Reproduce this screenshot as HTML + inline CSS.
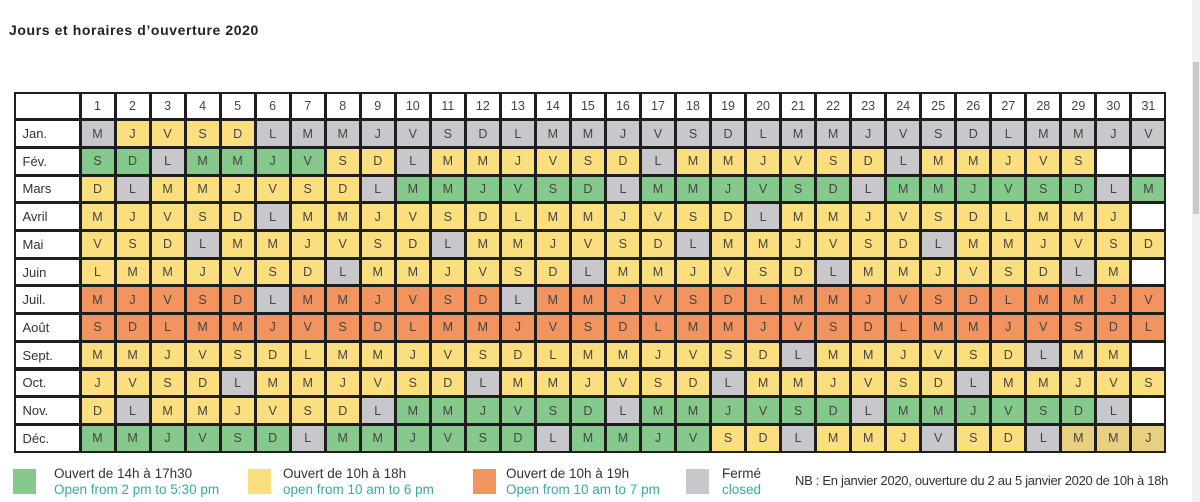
<!DOCTYPE html>
<html><head><meta charset="utf-8">
<style>
body{margin:0;width:1200px;height:502px;background:#fff;position:relative;overflow:hidden;font-family:"Liberation Sans",sans-serif;}
.t{position:absolute;left:9px;top:22px;font-family:"Liberation Sans",sans-serif;font-weight:bold;font-size:14px;letter-spacing:0.6px;color:#222;}
#tb{position:absolute;left:14px;top:92px;width:1152px;height:361px;background:#1e1e1e;}
.c{position:absolute;display:flex;align-items:center;justify-content:center;font-size:12.5px;color:#444;}
.l{justify-content:flex-start;padding-left:7px;box-sizing:border-box;font-size:13px;color:#333;}
.sq{position:absolute;width:23px;height:25px;top:469px;}
.lt{position:absolute;top:466px;font-size:13.5px;line-height:16px;color:#333;}
.lt span{color:#3aa8a8;}
</style></head><body>
<div class="t">Jours et horaires d’ouverture 2020</div>
<div id="tb"></div>
<div style="position:absolute;left:1192px;top:0;width:8px;height:502px;background:#f0f0f0"></div>
<div style="position:absolute;left:1193px;top:62px;width:6px;height:152px;background:#c8c8c8"></div>
<div class="sq" style="left:13px;background:#86c98c"></div>
<div class="lt" style="left:54px">Ouvert de 14h à 17h30<br><span>Open from 2 pm to 5:30 pm</span></div>
<div class="sq" style="left:248px;background:#fbdf7e"></div>
<div class="lt" style="left:283px">Ouvert de 10h à 18h<br><span>open from 10 am to 6 pm</span></div>
<div class="sq" style="left:473px;background:#f29460"></div>
<div class="lt" style="left:506px">Ouvert de 10h à 19h<br><span>Open from 10 am to 7 pm</span></div>
<div class="sq" style="left:686px;background:#c8c8cc"></div>
<div class="lt" style="left:722px">Fermé<br><span>closed</span></div>
<div class="lt" style="left:795px;top:473px;font-size:13px;letter-spacing:-0.3px">NB : En janvier 2020, ouverture du 2 au 5 janvier 2020 de 10h à 18h</div>
<script>
var C={G:'#86c98c',Y:'#fbdf7e',O:'#f29460',X:'#c8c8cc',W:'#ffffff',D:'#e9d080'};
function ex(s){var o='';s.split(',').forEach(function(p){var m=p.match(/(\d+)([A-Z])/);o+=m[2].repeat(+m[1]);});return o;}
var rows=[
['Jan.',ex('1X,4Y,26X')],
['Fév.',ex('2G,1X,4G,2Y,1X,6Y,1X,6Y,1X,5Y,2W')],
['Mars',ex('1Y,1X,6Y,1X,6G,1X,6G,1X,6G,1X,1G')],
['Avril',ex('5Y,1X,13Y,1X,10Y,1W')],
['Mai',ex('3Y,1X,6Y,1X,6Y,1X,6Y,1X,6Y')],
['Juin',ex('7Y,1X,6Y,1X,6Y,1X,6Y,1X,1Y,1W')],
['Juil.',ex('5O,1X,6O,1X,18O')],
['Août',ex('31O')],
['Sept.',ex('20Y,1X,6Y,1X,2Y,1W')],
['Oct.',ex('4Y,1X,6Y,1X,6Y,1X,6Y,1X,5Y')],
['Nov.',ex('1Y,1X,6Y,1X,6G,1X,6G,1X,6G,1X,1W')],
['Déc.',ex('6G,1X,6G,1X,4G,2Y,1X,3Y,1X,2Y,1X,3D')]
];
var len=[31,29,31,30,31,30,31,31,30,31,30,31],L='LMMJVSD',doy=2;
var h='',pw=35.03,ph=27.7,X0=14,Y0=92,LW=66;
function cell(x,y,w,hh,bg,txt,cls){h+='<div class="c '+(cls||'')+'" style="left:'+(x+1.5)+'px;top:'+(y+1.5)+'px;width:'+(w-3)+'px;height:'+(hh-3)+'px;background:'+bg+'">'+txt+'</div>';}
cell(X0,Y0,LW,ph,'#fff','');
for(var d=1;d<=31;d++)cell(X0+LW+(d-1)*pw,Y0,pw,ph,'#fff',d);
rows.forEach(function(r,i){var y=Y0+(i+1)*ph;cell(X0,y,LW,ph,'#fff',r[0],'l');
for(var d=1;d<=31;d++){var t='';if(d<=len[i]){t=L[(doy+d-1)%7];}cell(X0+LW+(d-1)*pw,y,pw,ph,C[r[1][d-1]],t);}
doy+=len[i];});
document.body.insertAdjacentHTML('beforeend',h);
</script>
</body></html>
